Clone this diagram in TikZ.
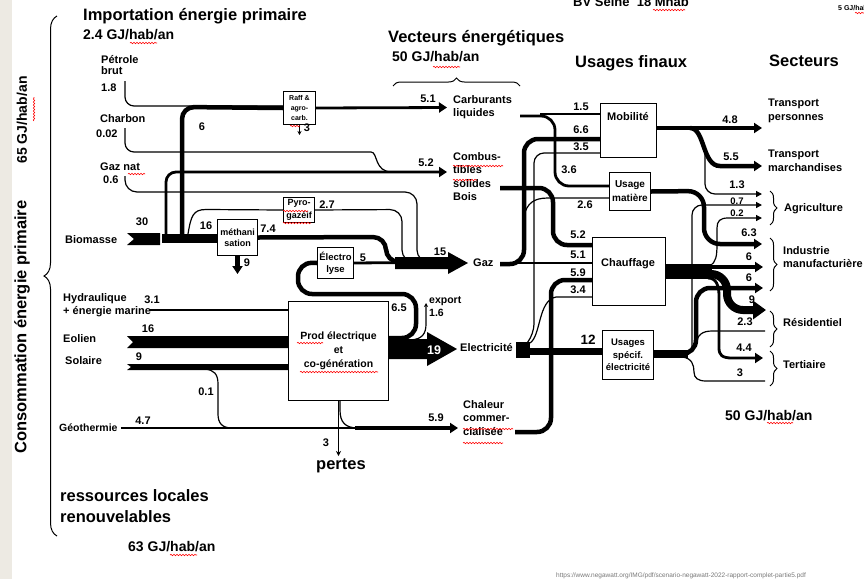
\documentclass[tikz,border=0pt]{standalone}
\usepackage{fontspec}
\setmainfont{Liberation Sans}
\usepackage{xcolor}
\usepackage{tikz}
\usetikzlibrary{arrows.meta}
\usetikzlibrary{decorations.pathreplacing,decorations.pathmorphing}
\definecolor{fondgris}{RGB}{237,234,227}
\definecolor{lien}{RGB}{120,120,120}

\begin{document}
\begin{tikzpicture}[x=1pt,y=-1pt,
    txt/.style={inner sep=0pt,anchor=west,align=left,font=\fontsize{11}{13.5}\selectfont\bfseries},
    num/.style={inner sep=0pt,font=\fontsize{11}{13}\selectfont\bfseries},
    titre/.style={inner sep=0pt,anchor=west,align=left,font=\fontsize{16.5}{21}\selectfont\bfseries},
    total/.style={inner sep=0pt,anchor=west,font=\fontsize{14}{16}\selectfont\bfseries},
    boite/.style={draw,line width=1pt,fill=white,inner sep=0pt,anchor=north west,align=center},
    fin/.style={line width=1.2pt},
    mi/.style={line width=2.8pt},
    gros/.style={line width=4.5pt},
    fl/.style={-{Triangle[length=8pt,width=10pt]}},
    flp/.style={-{Triangle[length=6pt,width=6pt]}},
    accol/.style={decorate,decoration={brace,amplitude=#1},line width=1pt},
    ondul/.style={draw=red,line width=0.6pt,decorate,decoration={snake,amplitude=0.7pt,segment length=3pt}}
]
        %CADRE
        \useasboundingbox (0,0) rectangle (864,579);
        \fill[fondgris] (0,0) rectangle (12,579);

        %TITRES
        \node[titre] (imp) at (83,16) {Importation énergie primaire};
        \node[total] (impv) at (83,35) {2.4 GJ/hab/an};
        \node[titre,rotate=90,anchor=center] (conso) at (22,327) {Consommation énergie primaire};
        \node[total,rotate=90,anchor=center] (consov) at (22,120) {65 GJ/hab/an};
        \node[titre] (vect) at (388,38) {Vecteurs énergétiques};
        \node[total] (vectv) at (392,57) {50 GJ/hab/an};
        \node[titre] (usag) at (575,63) {Usages finaux};
        \node[titre] (sect) at (769,61) {Secteurs};
        \node[total,anchor=base west,font=\fontsize{13}{15}\selectfont\bfseries] (bv) at (573,6.5) {BV Seine~~18 Mhab};
        \node[inner sep=0pt,anchor=base west,font=\fontsize{7}{8}\selectfont\bfseries] (cinq) at (838,10) {5 GJ/hab/an};
        \node[titre,anchor=north west] (ress) at (60,489) {ressources locales\\renouvelables};
        \node[total] (ressv) at (128,547) {63 GJ/hab/an};
        \node[total] (usagv) at (725,416) {50 GJ/hab/an};
        \node[inner sep=0pt,anchor=base west,text=lien,font=\fontsize{6.5}{7}\selectfont] (url) at (556,577) {https://www.negawatt.org/IMG/pdf/scenario-negawatt-2022-rapport-complet-partie5.pdf};

        %ACCOLADES
        \draw[accol=13pt] (57,536) -- (57,16);
        \draw[accol=8pt] (393,86) -- (520,86);
        \draw[accol=7pt] (770,191) -- (770,225);
        \draw[accol=7pt] (770,238) -- (770,291);
        \draw[accol=7pt] (770,311) -- (770,347);
        \draw[accol=7pt] (770,351) -- (770,386);

        %SOURCES
        \node[txt,anchor=north west,font=\fontsize{11}{11.5}\selectfont\bfseries] (petrole) at (101,55) {Pétrole\\brut};
        \node[txt] (charbon) at (100,119) {Charbon};
        \node[txt] (gaznat) at (100,167) {Gaz nat};
        \node[txt] (biomasse) at (65,240) {Biomasse};
        \node[txt,anchor=north west] (hydro) at (63,293) {Hydraulique\\+ énergie marine};
        \node[txt] (eolien) at (63,339) {Eolien};
        \node[txt] (solaire) at (65,361) {Solaire};
        \node[txt,font=\fontsize{10.5}{12}\selectfont\bfseries] (geo) at (59,428) {Géothermie};

        %VECTEURS
        \node[txt,anchor=north west] (carb) at (453,95) {Carburants\\liquides};
        \node[txt,anchor=north west] (combus) at (453,152) {Combus-\\tibles\\solides\\Bois};
        \node[txt] (gaz) at (473,263) {Gaz};
        \node[txt] (elec) at (460,348) {Electricité};
        \node[txt,anchor=north west] (chaleur) at (463,400) {Chaleur\\commer-\\cialisée};
        \node[txt,font=\fontsize{11}{13}\selectfont\bfseries] (pertes) at (316,466) {\fontsize{16.5}{18}\selectfont pertes};
        \node[txt,anchor=north west,font=\fontsize{10.5}{13}\selectfont\bfseries] (export) at (429,296) {export\\1.6};

        %SECTEURS
        \node[txt,anchor=north west] (tpers) at (768,99) {Transport\\personnes};
        \node[txt,anchor=north west] (tmarch) at (768,150) {Transport\\marchandises};
        \node[txt] (agri) at (784,209) {Agriculture};
        \node[txt,anchor=north west] (indus) at (783,246) {Industrie\\manufacturière};
        \node[txt] (resid) at (783,323) {Résidentiel};
        \node[txt] (terti) at (783,365) {Tertiaire};

        %BOITES
        \node[boite,minimum width=32pt,minimum height=33pt,font=\fontsize{7}{10}\selectfont\bfseries] (raff) at (283,91) {Raff \&\\agro-\\carb.};
        \node[boite,minimum width=31pt,minimum height=25pt,font=\fontsize{9}{12.5}\selectfont\bfseries] (pyro) at (283,197) {Pyro-\\gazéif};
        \node[boite,minimum width=40pt,minimum height=36pt,font=\fontsize{9}{11.5}\selectfont\bfseries] (methan) at (217,219) {méthani\\sation};
        \node[boite,minimum width=36pt,minimum height=31pt,font=\fontsize{9.5}{12}\selectfont\bfseries] (electro) at (317,247) {Électro\\lyse};
        \node[boite,minimum width=100pt,minimum height=99pt,font=\fontsize{10.5}{14}\selectfont\bfseries] (prod) at (288,301) {Prod électrique\\et\\co-génération};
        \node[boite,minimum width=56pt,minimum height=54pt] (mob) at (600,103) {};
        \node[num] (mobt) at (628,117) {Mobilité};
        \node[boite,minimum width=41pt,minimum height=38pt,font=\fontsize{10}{14}\selectfont\bfseries] (mat) at (609,172) {Usage\\matière};
        \node[boite,minimum width=73pt,minimum height=68pt] (chauf) at (592,237) {};
        \node[num] (chauft) at (628,264) {Chauffage};
        \node[boite,minimum width=51pt,minimum height=49pt,font=\fontsize{9.5}{12.5}\selectfont\bfseries] (spec) at (602,330) {Usages\\spécif.\\électricité};

        %FLUX SOURCES
        \draw[fin,rounded corners=9pt] (125,81) -- (125,106) -- (raff.west |- 0,106);
        \draw[gros,rounded corners=12pt] (182,234) -- (182,107) -- (raff.west);
        \draw[fin,rounded corners=9pt] (125,128) -- (125,152) -- (362,152) .. controls (378,152) and (374,172) .. (392,172);
        \draw[fin,rounded corners=12pt] (125,176) -- (125,192) -- (417,192) -- (417,262) -- (430,262);
        \fill (127,233) -- (160,233) -- (160,245) -- (127,245) -- (134,239) -- cycle;
        \draw[line width=9pt] (162,238.5) -- (methan.west |- 0,238.5);
        \draw[mi,fl,rounded corners=10pt] (166,234) -- (166,172) -- (447,172);
        \draw[fin] (188,234) .. controls (191,216) and (193,209.5) .. (206,209.5) -- (pyro.west);
        \draw[gros,rounded corners=13pt] (methan.east) -- (386,237) -- (386,262) -- (410,262);
        \draw[gros,fl] (methan.south) -- ++(0,18);
        \draw[fin,rounded corners=12pt] (pyro.east) -- (402,209.5) -- (402,262) -- (410,262);
        \draw[mi] (electro.east) -- (410,262.5);
        \draw[mi,fl] (raff.east) -- (447,107.5);
        \draw[fin,-{Stealth[length=4pt,width=4pt]}] (raff.south) -- ++(0,10);

        %GAZ
        \fill (395,257) -- (448,257) -- (448,252) -- (468,263) -- (448,274) -- (448,269) -- (395,269) -- cycle;

        %ELECTRICITE
        \draw[fin] (150,310) -- (prod.west |- 0,310);
        \fill (127,336) -- (prod.west |- 0,336) -- (prod.west |- 0,348) -- (127,348) -- (133,342) -- cycle;
        \fill (127,364) -- (prod.west |- 0,364) -- (prod.west |- 0,370) -- (127,370) -- (131,367) -- cycle;
        \draw[fin] (205,369) .. controls (214,370) and (218,374) .. (218,384) -- (218,414) .. controls (218,423) and (222,428) .. (232,428);
        \draw[gros,rounded corners=14pt] (prod.east |- 0,338) -- (416,338) -- (416,294) -- (298,294) -- (298,262.5) -- (electro.west);
        \fill (prod.east |- 0,339) -- (427,339) -- (427,332) -- (457,349) -- (427,366) -- (427,359) -- (prod.east |- 0,359) -- cycle;
        \node[num,white,font=\fontsize{12.5}{14}\selectfont\bfseries] (dixneuf) at (434,350) {19};
        \draw[fin,-{Stealth[length=4pt,width=4pt]}] (411,340) .. controls (422,339) and (426,334) .. (426,324) -- (426,303);

        %CHALEUR
        \draw[mi] ([xshift=3pt]geo.east) -- (358,428);
        \draw[gros,fl] (355,428) -- (458,428);
        \draw[fin,-{Stealth[length=5pt,width=5pt]}] (prod.south) -- ++(0,55);
        \draw[fin] (340,400) -- (340,410) .. controls (340,422) and (345,428) .. (358,428);

        %VECTEURS VERS USAGES
        \draw[mi,rounded corners=14pt] (520,116) -- (555,116) -- (555,186) -- (mat.west |- 0,186);
        \draw[fin] (540,114) -- (mob.west |- 0,114);
        \draw[gros,rounded corners=14pt] (500,188) -- (553,188) -- (553,245) -- (chauf.west |- 0,245);
        \draw[gros,rounded corners=14pt] (500,264) -- (524,264) -- (524,139) -- (mob.west |- 0,139);
        \draw[fin] (500,263) -- (chauf.west |- 0,263);
        \draw[fin] (524,216) .. controls (527,203) and (534,198) .. (548,198) -- (mat.west |- 0,198);
        \fill (516,342) rectangle (530,358);
        \draw[line width=7pt] (528,351) -- (spec.west |- 0,351);
        \draw[fin,rounded corners=10pt] (527,343) -- (534,334) -- (534,153) -- (mob.west |- 0,153);
        \draw[fin] (530,343) .. controls (541,336) and (538,300) .. (556,297) -- (chauf.west |- 0,297);
        \draw[gros,rounded corners=14pt] (515,432) -- (551,432) -- (551,280) -- (chauf.west |- 0,280);

        %USAGES VERS SECTEURS
        \draw[gros,fl] (mob.east |- 0,128) -- (762,128);
        \draw[gros,fl] (690,128) .. controls (705,128) and (702,166) .. (720,166) -- (762,166);
        \draw[fin,flp,rounded corners=10pt] (705,150) -- (705,194) -- (762,194);
        \draw[gros,fl,rounded corners=16pt] (mat.east) -- (704,191) -- (704,244) -- (762,244);
        \fill (chauf.east |- 0,264) rectangle (712,279);
        \draw[gros,fl] (705,267) -- (763,267);
        \draw[line width=8pt,-{Triangle[length=13pt,width=18pt]},rounded corners=16pt] (705,274) -- (727,274) -- (727,310) -- (766,310);
        \draw[mi,fl] (708,278) .. controls (716,278) and (719,285) .. (719,296) -- (719,348) .. controls (719,355) and (722,358) .. (732,358) -- (763,358);
        \draw[fin,flp] (710,266) .. controls (716,262) and (717,256) .. (717,244) -- (717,228) .. controls (717,221) and (720,218) .. (728,218) -- (762,218);
        \draw[line width=8pt] (spec.east |- 0,354) -- (688,354);
        \draw[gros,fl,rounded corners=14pt] (680,354) -- (696,354) -- (696,288) -- (763,288);
        \draw[fin,flp,rounded corners=10pt] (692,352) -- (692,205) -- (762,205);
        \draw[fin] (696,345) .. controls (697,335) and (702,331) .. (712,331) -- (765,331);
        \draw[fin] (682,357) .. controls (692,358) and (694,365) .. (694,372) .. controls (694,378) and (698,381) .. (706,381) -- (765,381);

        %VALEURS
        \foreach \nom/\px/\py/\val in {vRaff/202/127/6, vBio/142/222/30, vMeth/206/226/16, vMethS/268/229/7.4,
            vMethP/247/263/9, vPyro/327/205/2.7, vElec/363/258/5, vGaz/440/252/15, vBoucle/399/308/6.5,
            vHyd/152/300/3.1, vEol/148/329/16, vSol/139/357/9, vSolG/206/392/0.1, vGeo/143/421/4.7,
            vPert/326/443/3, vChal/436/418/5.9, vCarb/428/99/5.1, vComb/426/163/5.2, vRaffP/307/128/3,
            vMobA/581/107/1.5, vMobB/581/130/6.6, vMobC/581/147/3.5, vMatA/569/170/3.6, vMatB/585/205/2.6,
            vChA/578/235/5.2, vChB/578/255/5.1, vChC/578/273/5.9, vChD/578/290/3.4,
            vTp/730/120/4.8, vTm/731/157/5.5, vAgA/737/185/1.3, vIndA/749/233/6.3, vIndB/749/257/6,
            vIndC/749/278/6, vResA/752/300/9, vResB/745/322/2.3, vTerA/744/348/4.4, vTerB/740/373/3}
            \node[num] (\nom) at (\px,\py) {\val};
        \node[num,font=\fontsize{9.5}{11}\selectfont\bfseries] (vAgB) at (737,201) {0.7};
        \node[num,font=\fontsize{9.5}{11}\selectfont\bfseries] (vAgC) at (737,213) {0.2};
        \node[num,font=\fontsize{13.5}{15}\selectfont\bfseries] (vSpec) at (588,340) {12};
        \node[num,anchor=west] (vPet) at (101,88) {1.8};
        \node[num,anchor=west] (vChar) at (96,134) {0.02};
        \node[num,anchor=west] (vGn) at (103,180) {0.6};

        %SOULIGNE
        \foreach \xa/\xb/\yy in {130/157/43, 128/145/174, 290/300/126, 283/308/211, 283/311/223, 297/323/343,
            300/378/372, 453/503/166, 453/477/180, 463/513/429, 463/503/443, 433/460/67, 653/685/10,
            170/197/555, 767/793/423, 855/864/13}
            \draw[ondul] (\xa,\yy) -- (\xb,\yy);
        \draw[ondul] (34,121) -- (34,97);
\end{tikzpicture}
\end{document}
